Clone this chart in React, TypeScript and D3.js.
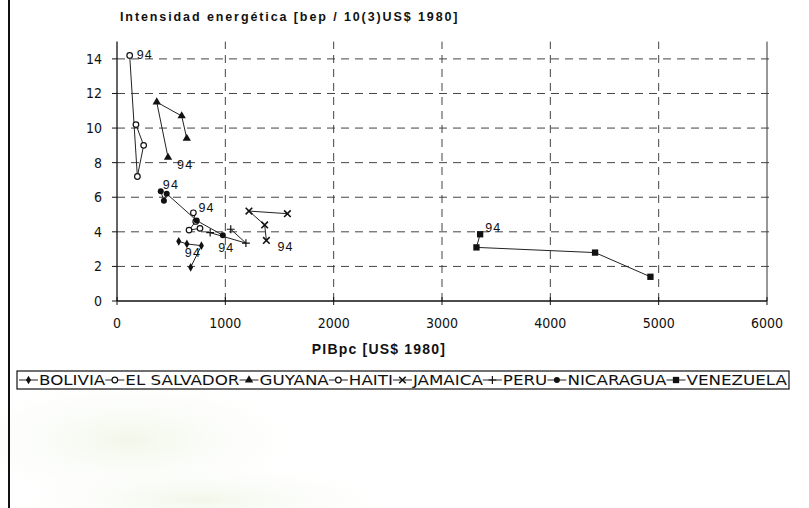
import React, { useEffect, useRef } from 'react';
import * as d3 from 'd3';

// ---------- data ----------
const SERIES = ['BOLIVIA', 'EL SALVADOR', 'GUYANA', 'HAITI', 'JAMAICA', 'PERU', 'NICARAGUA', 'VENEZUELA'];
const boliviaX = [680, 779, 645, 570];
const boliviaY = [1.95, 3.2, 3.3, 3.45];
const salvadorX = [766, 665, 727, 705];
const salvadorY = [4.2, 4.1, 4.6, 5.1];
const guyanaX = [644, 597, 367, 471];
const guyanaY = [9.4, 10.7, 11.5, 8.3];
const haitiX = [175, 246, 188, 117];
const haitiY = [10.2, 9.0, 7.2, 14.2];
const jamaicaX = [1573, 1218, 1363, 1379];
const jamaicaY = [5.05, 5.2, 4.4, 3.5];
const peruX = [1050, 1190, 860];
const peruY = [4.15, 3.35, 3.95];
const nicaraguaX = [977, 736, 459, 433, 404];
const nicaraguaY = [3.8, 4.65, 6.2, 5.8, 6.35];
const venezuelaX = [4924, 4413, 3318, 3352];
const venezuelaY = [1.4, 2.8, 3.1, 3.86];
const LAST_LABEL = '94';
const X_TICKS = [0, 1000, 2000, 3000, 4000, 5000, 6000];
const Y_TICKS = [0, 2, 4, 6, 8, 10, 12, 14];
const TITLE = 'Intensidad energética [bep / 10(3)US$ 1980]';
const X_TITLE = 'PIBpc [US$ 1980]';

// ---------- styles ----------
const seriesX = [boliviaX, salvadorX, guyanaX, haitiX, jamaicaX, peruX, nicaraguaX, venezuelaX];
const seriesY = [boliviaY, salvadorY, guyanaY, haitiY, jamaicaY, peruY, nicaraguaY, venezuelaY];
const MARKERS = ['diamond', 'openCircle', 'triangle', 'openCircle', 'star', 'plus', 'circle', 'square'];
// label offsets (px) from last point
const LABEL_DX = [6, 5, 9, 7, 11, 8, 2, 5];
const LABEL_DY = [12, -5, 8, 0, 7, 15, -6, -6];

const NARROW = "'Liberation Sans Narrow', 'Arial Narrow', 'DejaVu Sans Condensed', sans-serif";
const SANS = "'Liberation Sans', Arial, sans-serif";

function drawMarker(g: any, type: string, x: number, y: number) {
  const ink = '#111';
  if (type === 'diamond') {
    g.append('path').attr('d', d3.symbol(d3.symbolDiamond, 22)()).attr('transform', `translate(${x},${y})`).attr('fill', ink);
  } else if (type === 'openCircle') {
    g.append('circle').attr('cx', x).attr('cy', y).attr('r', 2.8).attr('fill', '#fff').attr('stroke', ink).attr('stroke-width', 1.2);
  } else if (type === 'triangle') {
    g.append('path').attr('d', d3.symbol(d3.symbolTriangle, 30)()).attr('transform', `translate(${x},${y})`).attr('fill', ink);
  } else if (type === 'star') {
    g.append('path').attr('d', d3.symbol(d3.symbolTimes, 30)()).attr('transform', `translate(${x},${y})`).attr('fill', 'none').attr('stroke', ink).attr('stroke-width', 1.6);
  } else if (type === 'plus') {
    g.append('path').attr('d', d3.symbol(d3.symbolPlus, 22)()).attr('transform', `translate(${x},${y})`).attr('fill', 'none').attr('stroke', ink).attr('stroke-width', 1.2);
  } else if (type === 'circle') {
    g.append('circle').attr('cx', x).attr('cy', y).attr('r', 3).attr('fill', ink);
  } else if (type === 'square') {
    g.append('path').attr('d', d3.symbol(d3.symbolSquare, 40)()).attr('transform', `translate(${x},${y})`).attr('fill', ink);
  }
}

export default function App() {
  const ref = useRef<SVGSVGElement>(null);

  useEffect(() => {
    const svg = d3.select(ref.current);
    svg.selectAll('*').remove();
    const W = 809, H = 508;

    // faint scan tint
    const defs = svg.append('defs');
    const grad = defs.append('radialGradient').attr('id', 'tint');
    grad.append('stop').attr('offset', '0%').attr('stop-color', '#eef5e4').attr('stop-opacity', 0.8);
    grad.append('stop').attr('offset', '100%').attr('stop-color', '#ffffff').attr('stop-opacity', 0);
    svg.append('rect').attr('width', W).attr('height', H).attr('fill', '#fff');
    svg.append('ellipse').attr('cx', 130).attr('cy', 440).attr('rx', 200).attr('ry', 70).attr('fill', 'url(#tint)');
    svg.append('ellipse').attr('cx', 200).attr('cy', 500).attr('rx', 220).attr('ry', 40).attr('fill', 'url(#tint)');

    // page frame left line
    svg.append('line').attr('x1', 9).attr('x2', 9).attr('y1', 0).attr('y2', H).attr('stroke', '#111').attr('stroke-width', 2);

    const x = d3.scaleLinear().domain([0, 6000]).range([117, 767]);
    const y = d3.scaleLinear().domain([0, 15]).range([301, 41.6]);

    const grid = svg.append('g');
    Y_TICKS.filter(t => t > 0).forEach(t => {
      grid.append('line').attr('x1', x(0)).attr('x2', x(6000) + 6).attr('y1', y(t)).attr('y2', y(t))
        .attr('stroke', '#444').attr('stroke-width', 1).attr('stroke-dasharray', '8,6');
    });
    X_TICKS.filter(t => t > 0 && t < 6000).forEach(t => {
      grid.append('line').attr('x1', x(t)).attr('x2', x(t)).attr('y1', y(0)).attr('y2', y(15))
        .attr('stroke', '#444').attr('stroke-width', 1).attr('stroke-dasharray', '8,6');
    });
    // right border
    grid.append('line').attr('x1', x(6000)).attr('x2', x(6000)).attr('y1', y(0)).attr('y2', y(15))
      .attr('stroke', '#333').attr('stroke-width', 1);

    // axes
    const ax = svg.append('g');
    ax.append('line').attr('x1', x(0)).attr('x2', x(6000)).attr('y1', y(0)).attr('y2', y(0)).attr('stroke', '#111').attr('stroke-width', 1.3);
    ax.append('line').attr('x1', x(0)).attr('x2', x(0)).attr('y1', y(0)).attr('y2', y(15)).attr('stroke', '#111').attr('stroke-width', 1.3);
    X_TICKS.forEach(t => {
      ax.append('line').attr('x1', x(t)).attr('x2', x(t)).attr('y1', y(0) - 4).attr('y2', y(0) + 4).attr('stroke', '#111');
      ax.append('text').attr('x', x(t)).attr('y', y(0) + 27).attr('text-anchor', 'middle')
        .attr('font-family', NARROW).attr('font-size', 14).attr('fill', '#111').text(String(t));
    });
    Y_TICKS.forEach(t => {
      ax.append('line').attr('x1', x(0) - 5).attr('x2', x(0)).attr('y1', y(t)).attr('y2', y(t)).attr('stroke', '#111');
      ax.append('text').attr('x', x(0) - 15).attr('y', y(t) + 5).attr('text-anchor', 'end')
        .attr('font-family', NARROW).attr('font-size', 14).attr('fill', '#111').text(String(t));
    });

    // titles
    svg.append('text').attr('x', 120).attr('y', 21).attr('font-family', SANS).attr('font-weight', 'bold')
      .attr('font-size', 12.5).attr('letter-spacing', 1.9).attr('fill', '#111').text(TITLE);
    svg.append('text').attr('x', 379).attr('y', 354).attr('text-anchor', 'middle').attr('font-family', SANS).attr('font-weight', 'bold')
      .attr('font-size', 14).attr('letter-spacing', 1.2).attr('fill', '#111').text(X_TITLE);

    // series
    const line = d3.line<[number, number]>().x(d => x(d[0])).y(d => y(d[1]));
    const plot = svg.append('g');
    SERIES.forEach((name, i) => {
      const pts: [number, number][] = seriesX[i].map((v, j) => [v, seriesY[i][j]]);
      plot.append('path').attr('d', line(pts)).attr('fill', 'none').attr('stroke', '#222').attr('stroke-width', 1);
    });
    SERIES.forEach((name, i) => {
      const pts: [number, number][] = seriesX[i].map((v, j) => [v, seriesY[i][j]]);
      pts.forEach(p => drawMarker(plot, MARKERS[i], x(p[0]), y(p[1])));
      const last = pts[pts.length - 1];
      plot.append('text').attr('x', x(last[0]) + LABEL_DX[i]).attr('y', y(last[1]) + LABEL_DY[i] + 4)
        .attr('font-family', SANS).attr('font-size', 12.5).attr('letter-spacing', 1.2).attr('fill', '#111').text(LAST_LABEL);
    });

    // legend: stretch text horizontally to fit the target box
    const leg = svg.append('g');
    const FS = 14.5;
    const SYM = 20;
    const left = 17, right = 789;
    const tmp = leg.append('g');
    const widths = SERIES.map(name => {
      const t = tmp.append('text').attr('font-family', NARROW).attr('font-size', FS).text(name);
      return (t.node() as SVGTextElement).getComputedTextLength();
    });
    tmp.remove();
    const avail = right - left - 4 - SERIES.length * SYM;
    const sx = avail / d3.sum(widths);
    const ly = 380;
    leg.append('rect').attr('x', left).attr('y', ly - 9).attr('width', right - left).attr('height', 18)
      .attr('fill', '#fff').attr('stroke', '#111').attr('stroke-width', 1.2);
    let cx = left + 2;
    SERIES.forEach((name, i) => {
      leg.append('line').attr('x1', cx).attr('x2', cx + SYM - 1).attr('y1', ly).attr('y2', ly).attr('stroke', '#222');
      drawMarker(leg, MARKERS[i], cx + (SYM - 1) / 2, ly);
      cx += SYM;
      leg.append('text').attr('transform', `translate(${cx},${ly + 5}) scale(${sx},1)`)
        .attr('font-family', NARROW).attr('font-size', FS).attr('fill', '#111').text(name);
      cx += widths[i] * sx;
    });
  }, []);

  return <svg ref={ref} width={809} height={508} style={{ position: 'absolute', left: 0, top: 0, background: '#fff' }} />;
}
